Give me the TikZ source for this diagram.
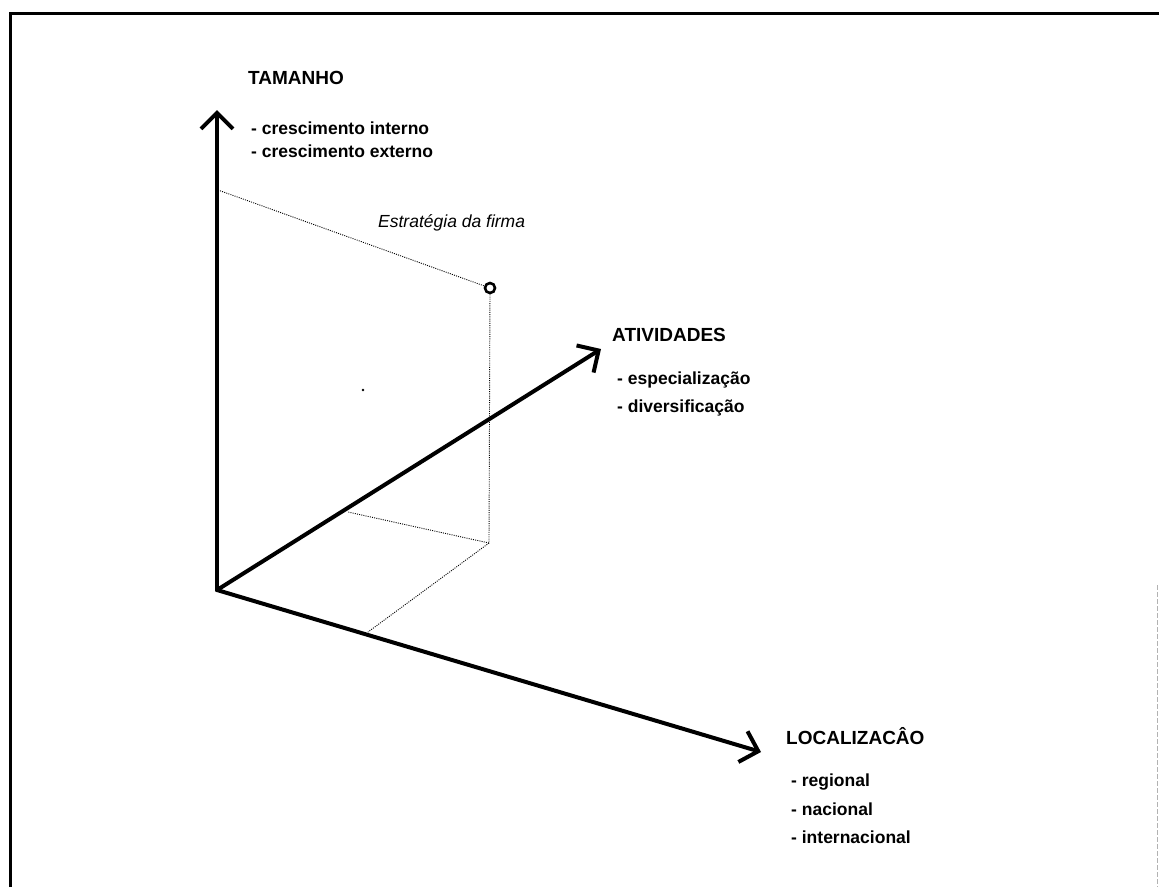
\documentclass[tikz,border=0pt]{standalone}
\usepackage{fontspec}
\setmainfont{Liberation Sans}
\usetikzlibrary{arrows.meta}
\begin{document}
\begin{tikzpicture}[x=1pt,y=-1pt,
  axis/.style={line width=4pt,line cap=round,-{Straight Barb[length=16pt,width=32pt,line width=4pt]}},
  guide/.style={line width=0.9pt,dash pattern=on 1pt off 1.2pt},
  frame/.style={line width=3pt},
  head/.style={anchor=west,inner sep=0pt,font=\fontsize{19}{22}\selectfont\bfseries},
  item/.style={anchor=west,inner sep=0pt,font=\fontsize{17.5}{22}\selectfont\bfseries},
  note/.style={anchor=west,inner sep=0pt,font=\fontsize{17.5}{22}\selectfont\itshape}]
\useasboundingbox (0,0) rectangle (1159,887);

% outer frame
\draw[frame] (10,887) -- (10,13) -- (1159,13);
\draw[gray!60,line width=0.8pt,dash pattern=on 5pt off 2pt] (1157,585) -- (1157,887);

% axes
\coordinate (O) at (217,590);
\coordinate (T) at (217,110);
\coordinate (A) at (601,349);
\coordinate (L) at (761,752);
\draw[axis] (O) -- (T);
\draw[axis] (O) -- (A);
\draw[axis] (O) -- (L);

% projection of the firm's position
\coordinate (Pt) at (218,190);
\coordinate (Pb) at (489,543);
\coordinate (Pa) at (348,512);
\coordinate (Pl) at (368,632);
\node[circle,draw,line width=2.6pt,minimum size=10pt,inner sep=0pt] (P) at (490,288) {};
\draw[guide] (Pt) -- (P);
\draw[guide] (P) -- (Pb);
\draw[guide] (Pb) -- (Pa);
\draw[guide] (Pb) -- (Pl);
\fill (363,390) circle (1.3pt);

% labels
\node[note] (est) at (378,223) {Estratégia da firma};

\node[head] (tam) at (248,78) {TAMANHO};
\node[item] (tam1) at (251,128) {- crescimento interno};
\node[item] (tam2) at (251,151) {- crescimento externo};

\node[head] (ati) at (612,335) {ATIVIDADES};
\node[item] (ati1) at (617,380) {- especialização};
\node[item] (ati2) at (617,408) {- diversificação};

\node[head] (loc) at (786,736) {LOCALIZACÂO};
\node[item] (loc1) at (791,782) {- regional};
\node[item] (loc2) at (791,809) {- nacional};
\node[item] (loc3) at (791,837) {- internacional};
\end{tikzpicture}
\end{document}
